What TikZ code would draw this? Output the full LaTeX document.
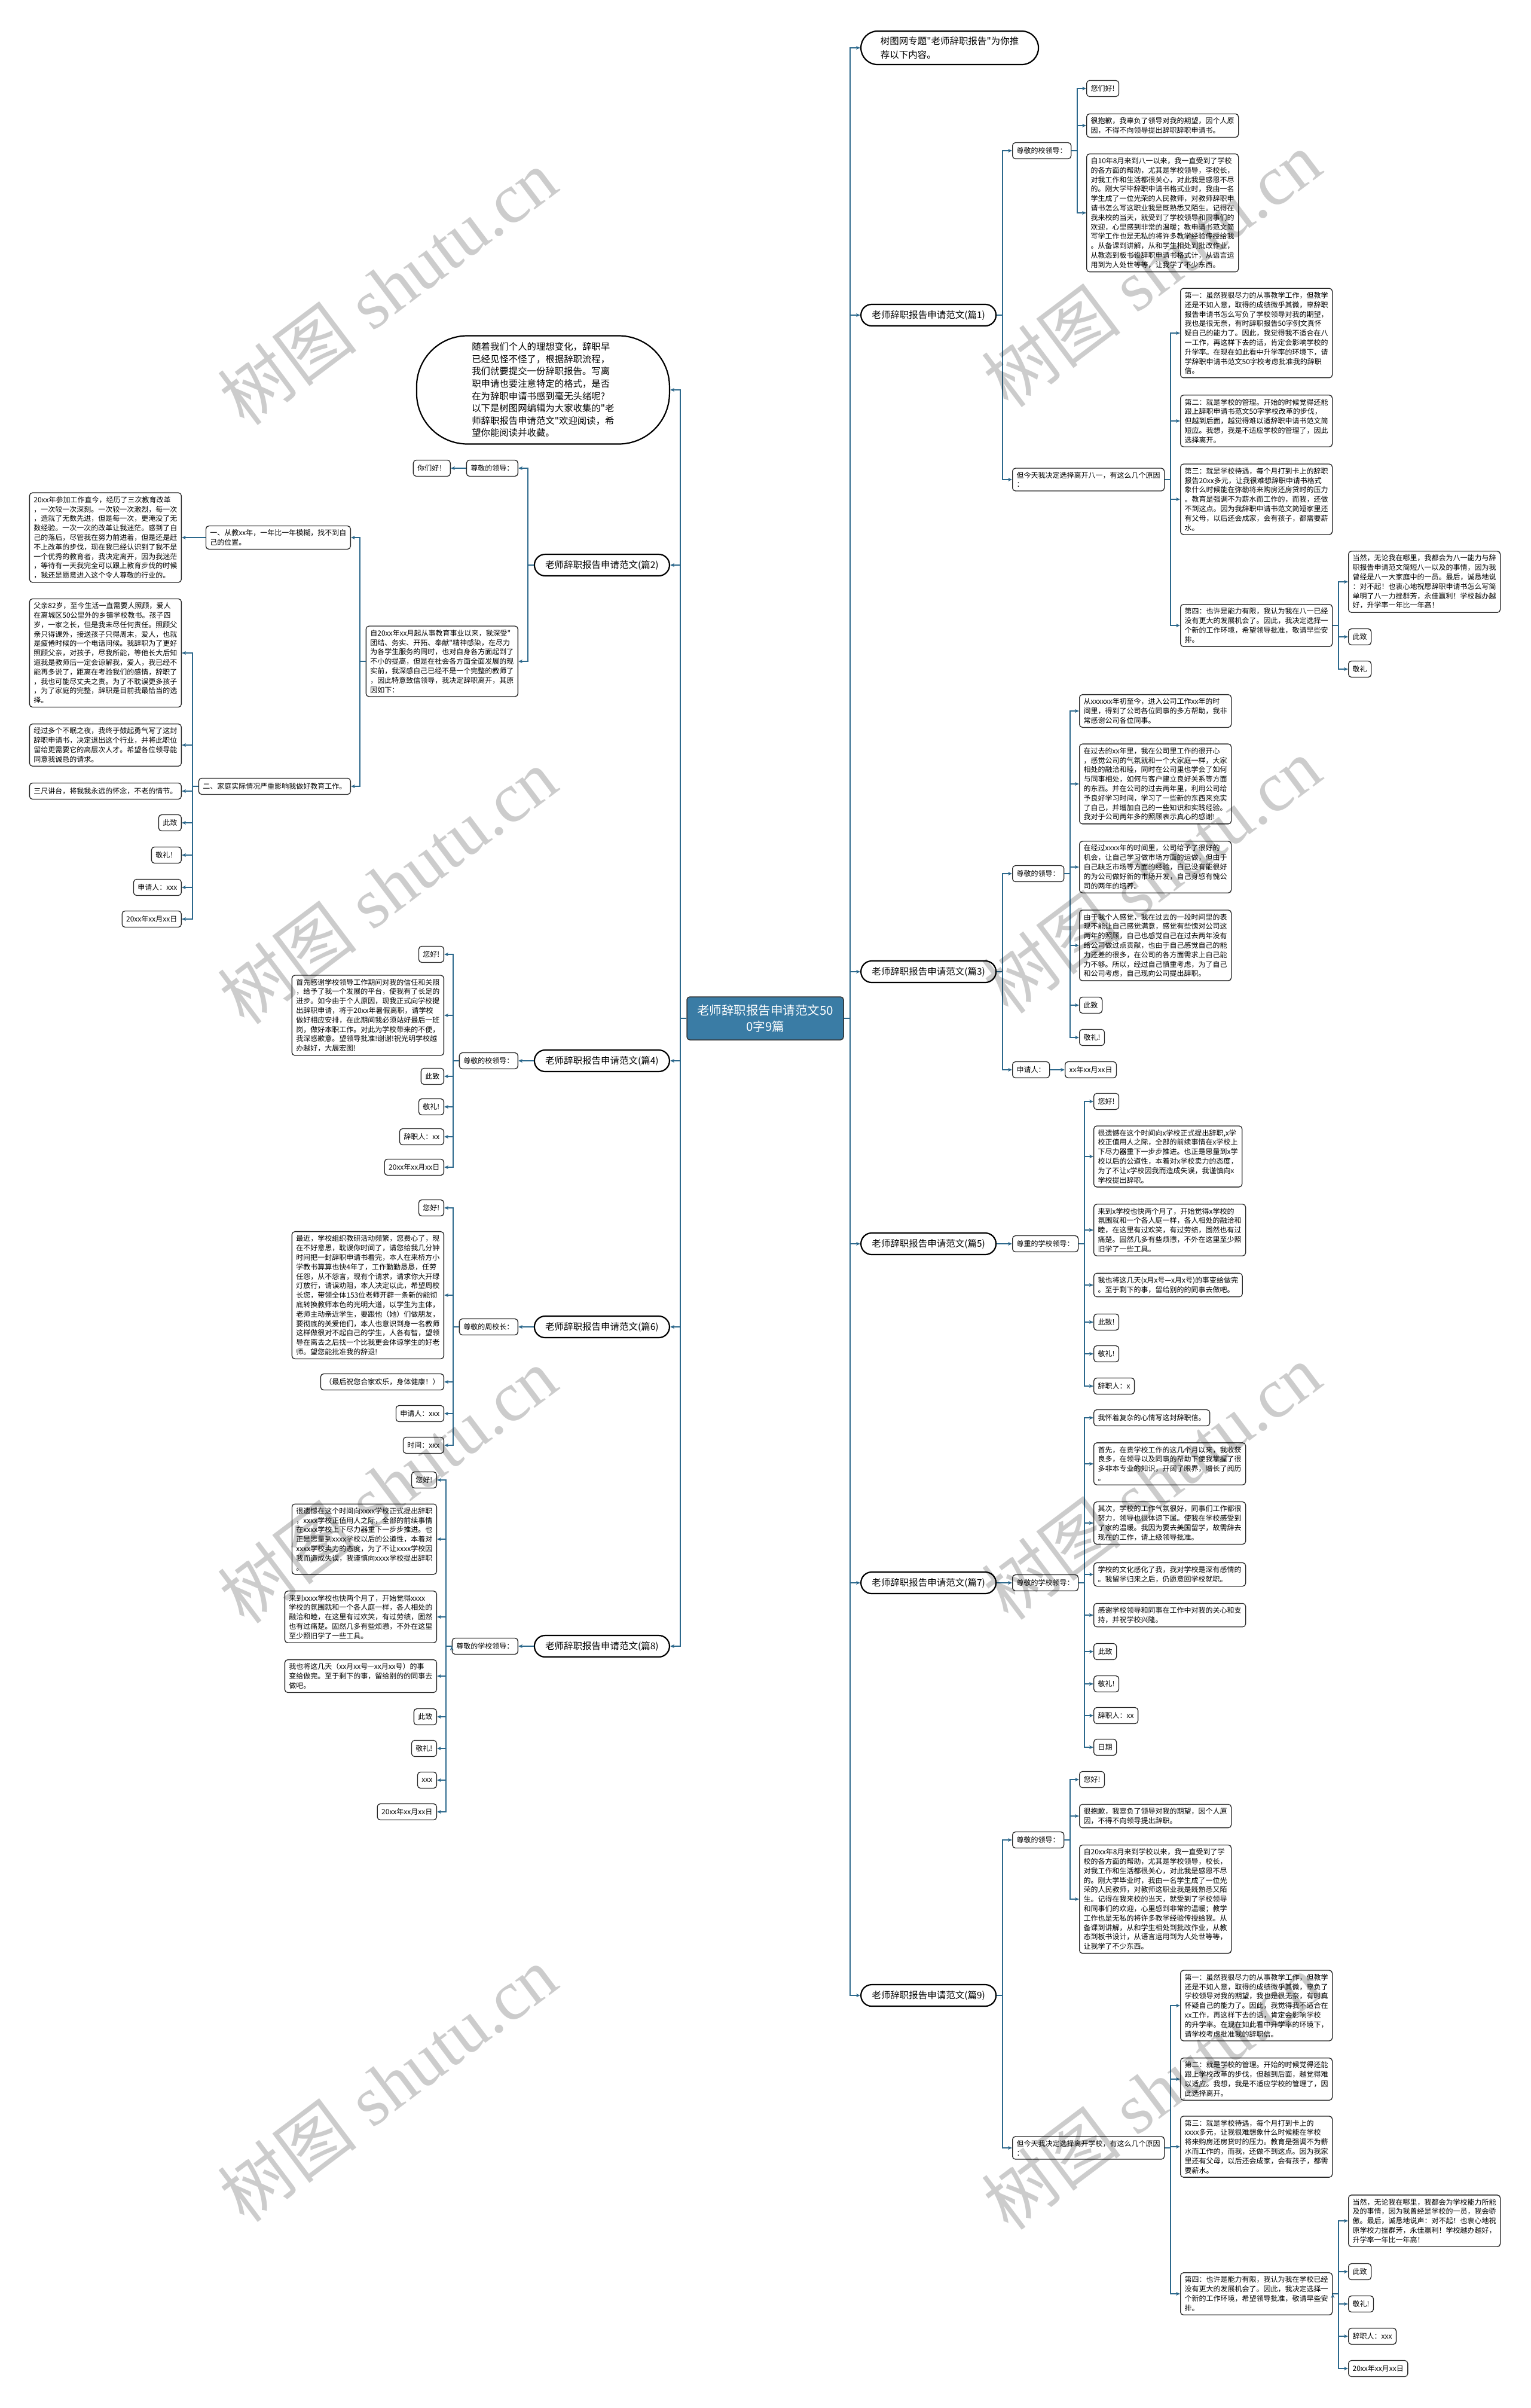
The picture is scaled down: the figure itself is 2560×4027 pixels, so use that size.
\documentclass[tikz,border=0pt]{standalone}
\usepackage{fontspec}
\setmainfont{Liberation Serif}
\newfontfamily\cjk{Noto Sans CJK SC}
\usepackage{tikz}
\usetikzlibrary{positioning,arrows.meta}
\definecolor{linkblue}{RGB}{44,104,140}
\definecolor{hubblue}{RGB}{58,124,165}

\begin{document}
\begin{tikzpicture}[x=1pt,y=-1pt,
    every node/.style={font=\cjk\fontsize{12}{15.8}\selectfont},
    box/.style={draw=black!85,line width=1.3pt,rounded corners=5pt,fill=white,
      align=left,inner xsep=7pt,inner ysep=6pt,minimum height=27pt},
    fan/.style={draw=black,line width=2.2pt,rounded corners=18pt,fill=white,
      minimum width=226pt,minimum height=36pt,font=\cjk\fontsize{15.5}{20}\selectfont},
    note/.style={draw=black,line width=2.2pt,rounded corners=28pt,fill=white,align=left,
      minimum width=297pt,minimum height=56pt,font=\cjk\fontsize{15.5}{22.5}\selectfont},
    bubble/.style={draw=black,line width=2.2pt,rounded corners=85pt,fill=white,align=left,
      minimum width=423pt,minimum height=181pt,font=\cjk\fontsize{15.4}{20.6}\selectfont},
    hub/.style={draw=black!80,line width=1.5pt,rounded corners=5pt,fill=hubblue,text=white,
      align=center,minimum width=262pt,minimum height=72pt,font=\cjk\fontsize{20.5}{27}\selectfont},
    wmark/.style={text=black,text opacity=0.2,rotate=37,font=\fontsize{118}{118}\selectfont},
    link/.style={draw=linkblue,line width=2.2pt,-{Stealth[length=7pt,width=6pt]}},
    toR/.style={to path={-- ++(10,0) |- (\tikztotarget)}},
    toL/.style={to path={-- ++(-10,0) |- (\tikztotarget)}}]
  \useasboundingbox (0,0) rectangle (2560,4027);

  % centre
  \node[hub] (c_0) at (1280,1703) {老师辞职报告申请范文50\\0字9篇};

  % right side
  \node[note,anchor=west] (t_0) at (1439,80) {树图网专题"老师辞职报告"为你推\\荐以下内容。};

  % (篇1)
  \node[fan,anchor=west] (p_1) at (1439,527) {老师辞职报告申请范文(篇1)};
  \node[box,anchor=west] (p_1a) at (1693,252) {尊敬的校领导：};
  \node[box,anchor=west] (p_1a1) at (1817,148) {您们好!};
  \node[box,anchor=west] (p_1a2) at (1817,210) {很抱歉，我辜负了领导对我的期望，因个人原\\因，不得不向领导提出辞职辞职申请书。};
  \node[box,anchor=west] (p_1a3) at (1817,356) {自10年8月来到八一以来，我一直受到了学校\\的各方面的帮助，尤其是学校领导，李校长，\\对我工作和生活都很关心，对此我是感恩不尽\\的。刚大学毕辞职申请书格式业时，我由一名\\学生成了一位光荣的人民教师，对教师辞职申\\请书怎么写这职业我是既熟悉又陌生。记得在\\我来校的当天，就受到了学校领导和同事们的\\欢迎，心里感到非常的温暖；教申请书范文简\\写学工作也是无私的将许多教学经验传授给我\\。从备课到讲解，从和学生相处到批改作业，\\从教态到板书设辞职申请书格式计，从语言运\\用到为人处世等等，让我学了不少东西。};
  \node[box,anchor=west] (p_1b) at (1693,802) {但今天我决定选择离开八一，有这么几个原因\\：};
  \node[box,anchor=west] (p_1b1) at (1974,557) {第一：虽然我很尽力的从事教学工作，但教学\\还是不如人意，取得的成绩微乎其微，辜辞职\\报告申请书怎么写负了学校领导对我的期望，\\我也是很无奈，有时辞职报告50字例文真怀\\疑自己的能力了。因此，我觉得我不适合在八\\一工作，再这样下去的话，肯定会影响学校的\\升学率。在现在如此看中升学率的环境下，请\\学辞职申请书范文50字校考虑批准我的辞职\\信。};
  \node[box,anchor=west] (p_1b2) at (1974,704) {第二：就是学校的管理。开始的时候觉得还能\\跟上辞职申请书范文50字学校改革的步伐，\\但越到后面，越觉得难以适辞职申请书范文简\\短应。我想，我是不适应学校的管理了，因此\\选择离开。};
  \node[box,anchor=west] (p_1b3) at (1974,835) {第三：就是学校待遇，每个月打到卡上的辞职\\报告20xx多元，让我很难想辞职申请书格式\\象什么时候能在弥勒将来购房还房贷时的压力\\。教育是强调不为薪水而工作的，而我，还做\\不到这点。因为我辞职申请书范文简短家里还\\有父母，以后还会成家，会有孩子，都需要薪\\水。};
  \node[box,anchor=west] (p_1b4) at (1974,1046) {第四：也许是能力有限，我认为我在八一已经\\没有更大的发展机会了。因此，我决定选择一\\个新的工作环境，希望领导批准，敬请早些安\\排。};
  \node[box,anchor=west] (p_1b4a) at (2255,973) {当然，无论我在哪里，我都会为八一能力与辞\\职报告申请范文简短八一以及的事情，因为我\\曾经是八一大家庭中的一员。最后，诚恳地说\\：对不起！也衷心地祝愿辞职申请书怎么写简\\单明了八一力挫群芳，永佳赢利！学校越办越\\好，升学率一年比一年高！};
  \node[box,anchor=west] (p_1b4b) at (2255,1065) {此致};
  \node[box,anchor=west] (p_1b4c) at (2255,1119) {敬礼};

  % (篇3)
  \node[fan,anchor=west] (p_3) at (1439,1625) {老师辞职报告申请范文(篇3)};
  \node[box,anchor=west] (p_3a) at (1693,1461) {尊敬的领导：};
  \node[box,anchor=west] (p_3a1) at (1805,1189) {从xxxxxx年初至今，进入公司工作xx年的时\\间里，得到了公司各位同事的多方帮助，我非\\常感谢公司各位同事。};
  \node[box,anchor=west] (p_3a2) at (1805,1311) {在过去的xx年里，我在公司里工作的很开心\\，感觉公司的气氛就和一个大家庭一样，大家\\相处的融洽和睦，同时在公司里也学会了如何\\与同事相处，如何与客户建立良好关系等方面\\的东西。并在公司的过去两年里，利用公司给\\予良好学习时间，学习了一些新的东西来充实\\了自己，并增加自己的一些知识和实践经验。\\我对于公司两年多的照顾表示真心的感谢!};
  \node[box,anchor=west] (p_3a3) at (1805,1450) {在经过xxxx年的时间里，公司给予了很好的\\机会，让自己学习做市场方面的运做，但由于\\自己缺乏市场等方面的经验，自己没有能很好\\的为公司做好新的市场开发，自己身感有愧公\\司的两年的培养。};
  \node[box,anchor=west] (p_3a4) at (1805,1581) {由于我个人感觉，我在过去的一段时间里的表\\现不能让自己感觉满意，感觉有些愧对公司这\\两年的照顾，自己也感觉自己在过去两年没有\\给公司做过点贡献，也由于自己感觉自己的能\\力还差的很多，在公司的各方面需求上自己能\\力不够。所以，经过自己慎重考虑，为了自己\\和公司考虑，自己现向公司提出辞职。};
  \node[box,anchor=west] (p_3a5) at (1805,1681) {此致};
  \node[box,anchor=west] (p_3a6) at (1805,1735) {敬礼!};
  \node[box,anchor=west] (p_3b) at (1693,1789) {申请人：};
  \node[box,anchor=west] (p_3b1) at (1781,1789) {xx年xx月xx日};

  % (篇5)
  \node[fan,anchor=west] (p_5) at (1439,2080) {老师辞职报告申请范文(篇5)};
  \node[box,anchor=west] (p_5a) at (1693,2080) {尊重的学校领导：};
  \node[box,anchor=west] (p_5a1) at (1829,1842) {您好!};
  \node[box,anchor=west] (p_5a2) at (1829,1934) {很遗憾在这个时间向x学校正式提出辞职,x学\\校正值用人之际，全部的前续事情在x学校上\\下尽力器重下一步步推进。也正是思量到x学\\校以后的公道性，本着对x学校卖力的态度，\\为了不让x学校因我而造成失误，我谨慎向x\\学校提出辞职。};
  \node[box,anchor=west] (p_5a3) at (1829,2057) {来到x学校也快两个月了，开始觉得x学校的\\氛围就和一个各人庭一样，各人相处的融洽和\\睦，在这里有过欢笑，有过劳绩，固然也有过\\痛楚。固然几多有些烦懑，不外在这里至少照\\旧学了一些工具。};
  \node[box,anchor=west] (p_5a4) at (1829,2149) {我也将这几天(x月x号—x月x号)的事变给做完\\。至于剩下的事，留给别的的同事去做吧。};
  \node[box,anchor=west] (p_5a5) at (1829,2211) {此致!};
  \node[box,anchor=west] (p_5a6) at (1829,2264) {敬礼!};
  \node[box,anchor=west] (p_5a7) at (1829,2318) {辞职人：x};

  % (篇7)
  \node[fan,anchor=west] (p_7) at (1439,2647) {老师辞职报告申请范文(篇7)};
  \node[box,anchor=west] (p_7a) at (1693,2647) {尊敬的学校领导：};
  \node[box,anchor=west] (p_7a1) at (1829,2371) {我怀着复杂的心情写这封辞职信。};
  \node[box,anchor=west] (p_7a2) at (1829,2448) {首先，在贵学校工作的这几个月以来，我收获\\良多，在领导以及同事的帮助下使我掌握了很\\多非本专业的知识，开阔了眼界，增长了阅历\\。};
  \node[box,anchor=west] (p_7a3) at (1829,2547) {其次，学校的工作气氛很好，同事们工作都很\\努力，领导也很体谅下属。使我在学校感受到\\了家的温暖。我因为要去美国留学，故需辞去\\现在的工作，请上级领导批准。};
  \node[box,anchor=west] (p_7a4) at (1829,2633) {学校的文化感化了我，我对学校是深有感情的\\。我留学归来之后，仍愿意回学校就职。};
  \node[box,anchor=west] (p_7a5) at (1829,2701) {感谢学校领导和同事在工作中对我的关心和支\\持，并祝学校兴隆。};
  \node[box,anchor=west] (p_7a6) at (1829,2762) {此致};
  \node[box,anchor=west] (p_7a7) at (1829,2816) {敬礼!};
  \node[box,anchor=west] (p_7a8) at (1829,2869) {辞职人：xx};
  \node[box,anchor=west] (p_7a9) at (1829,2922) {日期};

  % (篇9)
  \node[fan,anchor=west] (p_9) at (1439,3337) {老师辞职报告申请范文(篇9)};
  \node[box,anchor=west] (p_9a) at (1693,3077) {尊敬的领导：};
  \node[box,anchor=west] (p_9a1) at (1805,2976) {您好!};
  \node[box,anchor=west] (p_9a2) at (1805,3037) {很抱歉，我辜负了领导对我的期望，因个人原\\因，不得不向领导提出辞职。};
  \node[box,anchor=west] (p_9a3) at (1805,3176) {自20xx年8月来到学校以来，我一直受到了学\\校的各方面的帮助，尤其是学校领导，校长，\\对我工作和生活都很关心，对此我是感恩不尽\\的。刚大学毕业时，我由一名学生成了一位光\\荣的人民教师，对教师这职业我是既熟悉又陌\\生。记得在我来校的当天，就受到了学校领导\\和同事们的欢迎，心里感到非常的温暖；教学\\工作也是无私的将许多教学经验传授给我。从\\备课到讲解，从和学生相处到批改作业，从教\\态到板书设计，从语言运用到为人处世等等，\\让我学了不少东西。};
  \node[box,anchor=west] (p_9b) at (1693,3592) {但今天我决定选择离开学校，有这么几个原因\\：};
  \node[box,anchor=west] (p_9b1) at (1974,3354) {第一：虽然我很尽力的从事教学工作，但教学\\还是不如人意，取得的成绩微乎其微，辜负了\\学校领导对我的期望，我也是很无奈，有时真\\怀疑自己的能力了。因此，我觉得我不适合在\\xx工作，再这样下去的话，肯定会影响学校\\的升学率。在现在如此看中升学率的环境下，\\请学校考虑批准我的辞职信。};
  \node[box,anchor=west] (p_9b2) at (1974,3477) {第二：就是学校的管理。开始的时候觉得还能\\跟上学校改革的步伐，但越到后面，越觉得难\\以适应。我想，我是不适应学校的管理了，因\\此选择离开。};
  \node[box,anchor=west] (p_9b3) at (1974,3590) {第三：就是学校待遇，每个月打到卡上的\\xxxx多元，让我很难想象什么时候能在学校\\将来购房还房贷时的压力。教育是强调不为薪\\水而工作的，而我，还做不到这点。因为我家\\里还有父母，以后还会成家，会有孩子，都需\\要薪水。};
  \node[box,anchor=west] (p_9b4) at (1974,3836) {第四：也许是能力有限，我认为我在学校已经\\没有更大的发展机会了。因此，我决定选择一\\个新的工作环境，希望领导批准，敬请早些安\\排。};
  \node[box,anchor=west] (p_9b4a) at (2255,3714) {当然，无论我在哪里，我都会为学校能力所能\\及的事情，因为我曾经是学校的一员，我会骄\\傲。最后，诚恳地说声：对不起！也衷心地祝\\原学校力挫群芳，永佳赢利！学校越办越好，\\升学率一年比一年高！};
  \node[box,anchor=west] (p_9b4b) at (2255,3799) {此致};
  \node[box,anchor=west] (p_9b4c) at (2255,3853) {敬礼!};
  \node[box,anchor=west] (p_9b4d) at (2255,3907) {辞职人：xxx};
  \node[box,anchor=west] (p_9b4e) at (2255,3961) {20xx年xx月xx日};

  % left side
  \node[bubble,anchor=east] (t_1) at (1121,652) {随着我们个人的理想变化，辞职早\\已经见怪不怪了，根据辞职流程，\\我们就要提交一份辞职报告。写离\\职申请也要注意特定的格式，是否\\在为辞职申请书感到毫无头绪呢?\\以下是树图网编辑为大家收集的"老\\师辞职报告申请范文"欢迎阅读，希\\望你能阅读并收藏。};

  % (篇2)
  \node[fan,anchor=east] (p_2) at (1121,945) {老师辞职报告申请范文(篇2)};
  \node[box,anchor=east] (p_2a) at (867,783) {尊敬的领导：};
  \node[box,anchor=east] (p_2a1) at (754,783) {你们好！};
  \node[box,anchor=east] (p_2b) at (867,1106) {自20xx年xx月起从事教育事业以来，我深受"\\团结、务实、开拓、奉献"精神感染，在尽力\\为各学生服务的同时，也对自身各方面起到了\\不小的提高，但是在社会各方面全面发展的现\\实前，我深感自己已经不是一个完整的教师了\\，因此特意致信领导，我决定辞职离开，其原\\因如下：};
  \node[box,anchor=east] (p_2b1) at (587,899) {一、从教xx年，一年比一年模糊，找不到自\\己的位置。};
  \node[box,anchor=east] (p_2b1a) at (304,899) {20xx年参加工作直今，经历了三次教育改革\\，一次较一次深刻。一次较一次激烈，每一次\\，造就了无数先进，但是每一次，更淹没了无\\数经验。一次一次的改革让我迷茫。感到了自\\己的落后，尽管我在努力前进着，但是还是赶\\不上改革的步伐，现在我已经认识到了我不是\\一个优秀的教育者，我决定离开，因为我迷茫\\，等待有一天我完全可以跟上教育步伐的时候\\，我还是愿意进入这个令人尊敬的行业的。};
  \node[box,anchor=east] (p_2b2) at (587,1315) {二、家庭实际情况严重影响我做好教育工作。};
  \node[box,anchor=east] (p_2b2a) at (304,1092) {父亲82岁，至今生活一直需要人照顾，爱人\\在离城区50公里外的乡镇学校教书。孩子四\\岁，一家之长，但是我未尽任何责任。照顾父\\亲只得课外，接送孩子只得周末，爱人，也就\\是疲倦时候的一个电话问候。我辞职为了更好\\照顾父亲，对孩子，尽我所能，等他长大后知\\道我是教师后一定会谅解我，爱人，我已经不\\能再多说了，距离在考验我们的感情，辞职了\\，我也可能尽丈夫之责。为了不耽误更多孩子\\，为了家庭的完整，辞职是目前我最恰当的选\\择。};
  \node[box,anchor=east] (p_2b2b) at (304,1246) {经过多个不眠之夜，我终于鼓起勇气写了这封\\辞职申请书，决定退出这个行业，并将此职位\\留给更需要它的高层次人才。希望各位领导能\\同意我诚恳的请求。};
  \node[box,anchor=east] (p_2b2c) at (304,1323) {三尺讲台，将我我永远的怀念，不老的情节。};
  \node[box,anchor=east] (p_2b2d) at (304,1376) {此致};
  \node[box,anchor=east] (p_2b2e) at (304,1430) {敬礼！};
  \node[box,anchor=east] (p_2b2f) at (304,1484) {申请人：xxx};
  \node[box,anchor=east] (p_2b2g) at (304,1537) {20xx年xx月xx日};

  % (篇4)
  \node[fan,anchor=east] (p_4) at (1121,1774) {老师辞职报告申请范文(篇4)};
  \node[box,anchor=east] (p_4a) at (867,1774) {尊敬的校领导：};
  \node[box,anchor=east] (p_4a1) at (743,1596) {您好!};
  \node[box,anchor=east] (p_4a2) at (743,1698) {首先感谢学校领导工作期间对我的信任和关照\\，给予了我一个发展的平台，使我有了长足的\\进步。如今由于个人原因，现我正式向学校提\\出辞职申请，将于20xx年暑假离职，请学校\\做好相应安排，在此期间我必须站好最后一班\\岗，做好本职工作。对此为学校带来的不便，\\我深感歉意。望领导批准!谢谢!祝光明学校越\\办越好，大展宏图!};
  \node[box,anchor=east] (p_4a3) at (743,1800) {此致};
  \node[box,anchor=east] (p_4a4) at (743,1851) {敬礼!};
  \node[box,anchor=east] (p_4a5) at (743,1901) {辞职人：xx};
  \node[box,anchor=east] (p_4a6) at (743,1952) {20xx年xx月xx日};

  % (篇6)
  \node[fan,anchor=east] (p_6) at (1121,2219) {老师辞职报告申请范文(篇6)};
  \node[box,anchor=east] (p_6a) at (867,2219) {尊敬的周校长：};
  \node[box,anchor=east] (p_6a1) at (743,2020) {您好!};
  \node[box,anchor=east] (p_6a2) at (743,2166) {最近，学校组织教研活动频繁，您费心了，现\\在不好意思，耽误你时间了，请您给我几分钟\\时间把一封辞职申请书看完，本人在来桥方小\\学教书算算也快4年了，工作勤勤恳恳，任劳\\任怨，从不怨言，现有个请求，请求你大开绿\\灯放行，请误劝阻，本人决定以此，希望周校\\长您，带领全体153位老师开辟一条新的能彻\\底转换教师本色的光明大道，以学生为主体，\\老师主动亲近学生，要跟他（她）们做朋友，\\要彻底的关爱他们，本人也意识到身一名教师\\这样做很对不起自己的学生，人各有智，望领\\导在离去之后找一个比我更会体谅学生的好老\\师。望您能批准我的辞退!};
  \node[box,anchor=east] (p_6a3) at (743,2311) {（最后祝您合家欢乐，身体健康！）};
  \node[box,anchor=east] (p_6a4) at (743,2364) {申请人：xxx};
  \node[box,anchor=east] (p_6a5) at (743,2417) {时间：xxx};

  % (篇8)
  \node[fan,anchor=east] (p_8) at (1121,2753) {老师辞职报告申请范文(篇8)};
  \node[box,anchor=east] (p_8a) at (867,2753) {尊敬的学校领导：};
  \node[box,anchor=east] (p_8a1) at (731,2475) {您好!};
  \node[box,anchor=east] (p_8a2) at (731,2574) {很遗憾在这个时间向xxxx学校正式提出辞职\\，xxxx学校正值用人之际，全部的前续事情\\在xxxx学校上下尽力器重下一步步推进。也\\正是思量到xxxx学校以后的公道性，本着对\\xxxx学校卖力的态度，为了不让xxxx学校因\\我而造成失误，我谨慎向xxxx学校提出辞职\\。};
  \node[box,anchor=east] (p_8a3) at (731,2704) {来到xxxx学校也快两个月了，开始觉得xxxx\\学校的氛围就和一个各人庭一样，各人相处的\\融洽和睦，在这里有过欢笑，有过劳绩，固然\\也有过痛楚。固然几多有些烦懑，不外在这里\\至少照旧学了一些工具。};
  \node[box,anchor=east] (p_8a4) at (731,2803) {我也将这几天（xx月xx号—xx月xx号）的事\\变给做完。至于剩下的事，留给别的的同事去\\做吧。};
  \node[box,anchor=east] (p_8a5) at (731,2871) {此致};
  \node[box,anchor=east] (p_8a6) at (731,2924) {敬礼!};
  \node[box,anchor=east] (p_8a7) at (731,2977) {xxx};
  \node[box,anchor=east] (p_8a8) at (731,3030) {20xx年xx月xx日};

  % connectors, right
  \path[link]
    (c_0.east) edge[toR] (t_0.west)
               edge[toR] (p_1.west)
               edge[toR] (p_3.west)
               edge[toR] (p_5.west)
               edge[toR] (p_7.west)
               edge[toR] (p_9.west)
    (p_1.east) edge[toR] (p_1a.west)
               edge[toR] (p_1b.west)
    (p_1a.east) edge[toR] (p_1a1.west)
                edge[toR] (p_1a2.west)
                edge[toR] (p_1a3.west)
    (p_1b.east) edge[toR] (p_1b1.west)
                edge[toR] (p_1b2.west)
                edge[toR] (p_1b3.west)
                edge[toR] (p_1b4.west)
    (p_1b4.east) edge[toR] (p_1b4a.west)
                 edge[toR] (p_1b4b.west)
                 edge[toR] (p_1b4c.west)
    (p_3.east) edge[toR] (p_3a.west)
               edge[toR] (p_3b.west)
    (p_3a.east) edge[toR] (p_3a1.west)
                edge[toR] (p_3a2.west)
                edge[toR] (p_3a3.west)
                edge[toR] (p_3a4.west)
                edge[toR] (p_3a5.west)
                edge[toR] (p_3a6.west)
    (p_3b.east) edge[toR] (p_3b1.west)
    (p_5.east) edge[toR] (p_5a.west)
    (p_5a.east) edge[toR] (p_5a1.west)
                edge[toR] (p_5a2.west)
                edge[toR] (p_5a3.west)
                edge[toR] (p_5a4.west)
                edge[toR] (p_5a5.west)
                edge[toR] (p_5a6.west)
                edge[toR] (p_5a7.west)
    (p_7.east) edge[toR] (p_7a.west)
    (p_7a.east) edge[toR] (p_7a1.west)
                edge[toR] (p_7a2.west)
                edge[toR] (p_7a3.west)
                edge[toR] (p_7a4.west)
                edge[toR] (p_7a5.west)
                edge[toR] (p_7a6.west)
                edge[toR] (p_7a7.west)
                edge[toR] (p_7a8.west)
                edge[toR] (p_7a9.west)
    (p_9.east) edge[toR] (p_9a.west)
               edge[toR] (p_9b.west)
    (p_9a.east) edge[toR] (p_9a1.west)
                edge[toR] (p_9a2.west)
                edge[toR] (p_9a3.west)
    (p_9b.east) edge[toR] (p_9b1.west)
                edge[toR] (p_9b2.west)
                edge[toR] (p_9b3.west)
                edge[toR] (p_9b4.west)
    (p_9b4.east) edge[toR] (p_9b4a.west)
                 edge[toR] (p_9b4b.west)
                 edge[toR] (p_9b4c.west)
                 edge[toR] (p_9b4d.west)
                 edge[toR] (p_9b4e.west);

  % connectors, left
  \path[link]
    (c_0.west) edge[toL] (t_1.east)
               edge[toL] (p_2.east)
               edge[toL] (p_4.east)
               edge[toL] (p_6.east)
               edge[toL] (p_8.east)
    (p_2.west) edge[toL] (p_2a.east)
               edge[toL] (p_2b.east)
    (p_2a.west) edge[toL] (p_2a1.east)
    (p_2b.west) edge[toL] (p_2b1.east)
                edge[toL] (p_2b2.east)
    (p_2b1.west) edge[toL] (p_2b1a.east)
    (p_2b2.west) edge[toL] (p_2b2a.east)
                 edge[toL] (p_2b2b.east)
                 edge[toL] (p_2b2c.east)
                 edge[toL] (p_2b2d.east)
                 edge[toL] (p_2b2e.east)
                 edge[toL] (p_2b2f.east)
                 edge[toL] (p_2b2g.east)
    (p_4.west) edge[toL] (p_4a.east)
    (p_4a.west) edge[toL] (p_4a1.east)
                edge[toL] (p_4a2.east)
                edge[toL] (p_4a3.east)
                edge[toL] (p_4a4.east)
                edge[toL] (p_4a5.east)
                edge[toL] (p_4a6.east)
    (p_6.west) edge[toL] (p_6a.east)
    (p_6a.west) edge[toL] (p_6a1.east)
                edge[toL] (p_6a2.east)
                edge[toL] (p_6a3.east)
                edge[toL] (p_6a4.east)
                edge[toL] (p_6a5.east)
    (p_8.west) edge[toL] (p_8a.east)
    (p_8a.west) edge[toL] (p_8a1.east)
                edge[toL] (p_8a2.east)
                edge[toL] (p_8a3.east)
                edge[toL] (p_8a4.east)
                edge[toL] (p_8a5.east)
                edge[toL] (p_8a6.east)
                edge[toL] (p_8a7.east)
                edge[toL] (p_8a8.east);

  % watermark
  \node[wmark] (w_1) at (648,480) {{\cjk 树图} shutu.cn};
  \node[wmark] (w_2) at (1926,450) {{\cjk 树图} shutu.cn};
  \node[wmark] (w_3) at (648,1482) {{\cjk 树图} shutu.cn};
  \node[wmark] (w_4) at (1926,1464) {{\cjk 树图} shutu.cn};
  \node[wmark] (w_5) at (648,2484) {{\cjk 树图} shutu.cn};
  \node[wmark] (w_6) at (1926,2478) {{\cjk 树图} shutu.cn};
  \node[wmark] (w_7) at (648,3485) {{\cjk 树图} shutu.cn};
  \node[wmark] (w_8) at (1926,3498) {{\cjk 树图} shutu.cn};
\end{tikzpicture}
\end{document}
